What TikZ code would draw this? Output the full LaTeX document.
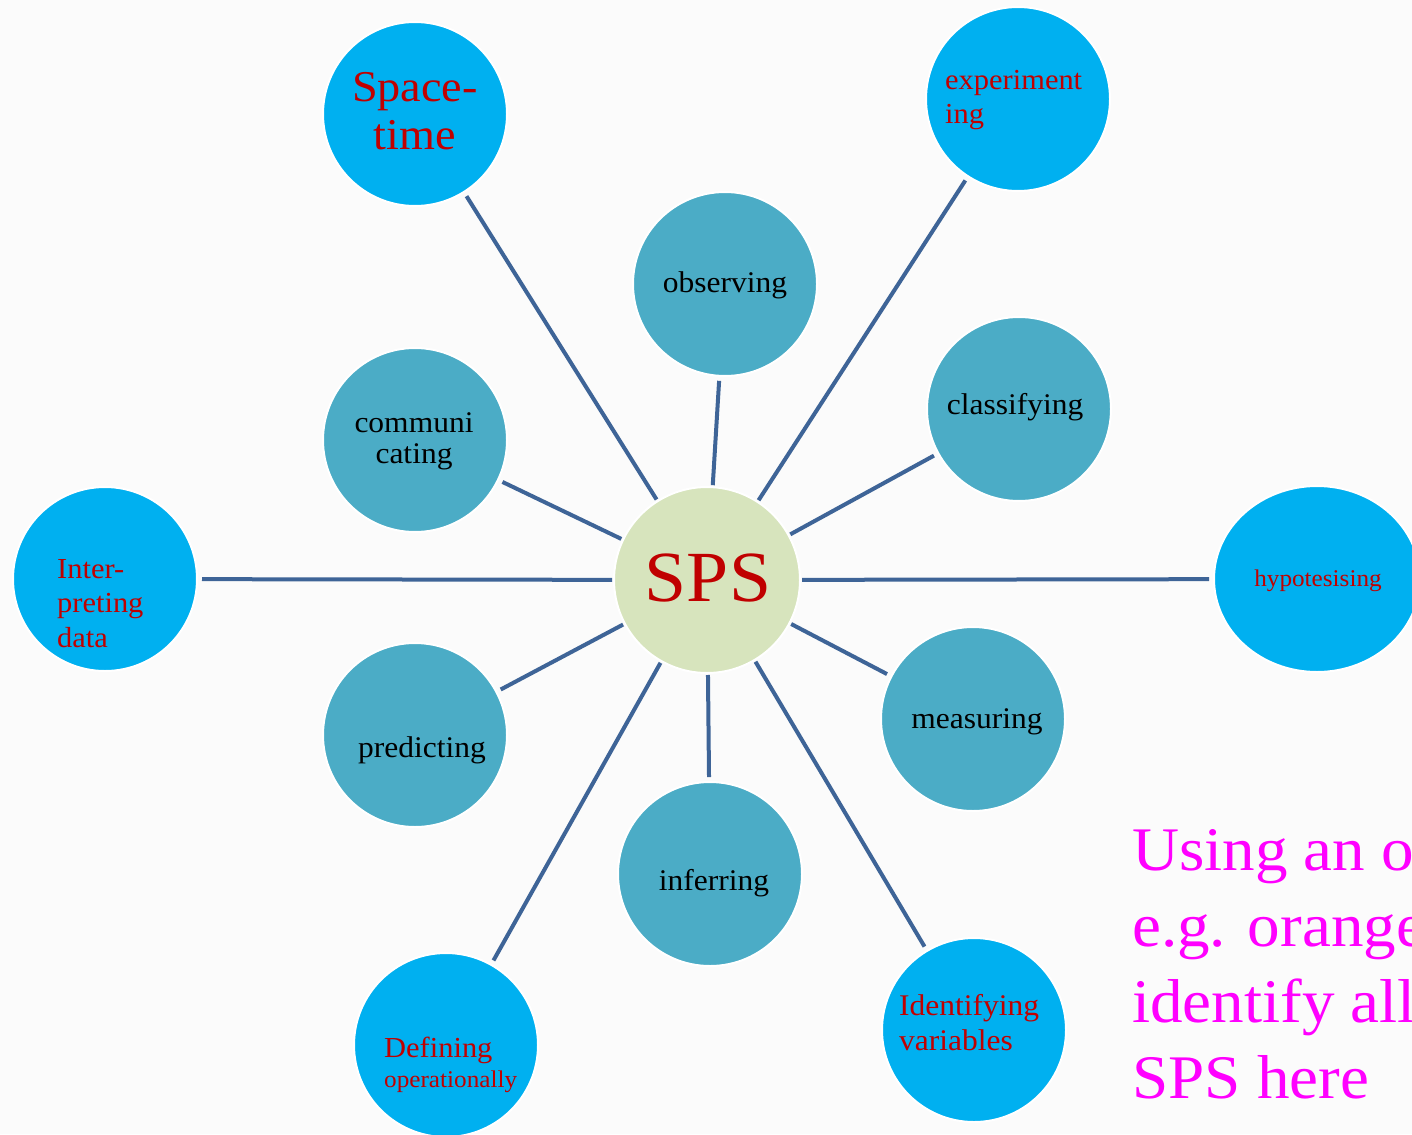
\documentclass[tikz,border=0pt]{standalone}
\usepackage{xcolor}
\usepackage{fontspec}
\setmainfont[FakeStretch=1.05]{Liberation Serif}
\usetikzlibrary{shapes.geometric}

\definecolor{fondo}{HTML}{FBFBFB}
\definecolor{celeste}{HTML}{00B0F0}
\definecolor{turquesa}{HTML}{4BACC6}
\definecolor{verdeclaro}{HTML}{D7E4BD}
\definecolor{azullinea}{HTML}{3E6497}
\definecolor{rojo}{HTML}{C00000}
\definecolor{rosa}{HTML}{FF00FF}

\begin{document}
\begin{tikzpicture}[x=1pt,y=-1pt,
    externo/.style={circle,fill=celeste,draw=white,line width=2pt,minimum size=184pt,inner sep=0pt},
    interno/.style={circle,fill=turquesa,draw=white,line width=2pt,minimum size=184pt,inner sep=0pt},
    rayo/.style={draw=azullinea,line width=4pt,shorten >=4pt,shorten <=1pt},
    txtint/.style={text=black,inner sep=0pt,anchor=base,font=\fontsize{30}{31}\selectfont},
    txtext/.style={text=rojo,inner sep=0pt,align=left,anchor=base west}]

        % Paso 1: Define el marco y el fondo
        \useasboundingbox (0,0) rectangle (1412,1134);
        \clip (0,0) rectangle (1412,1134);
        \fill[fondo] (0,0) rectangle (1412,1134);

        % Paso 2: Dibuja el circulo central
        \node[circle,fill=verdeclaro,draw=white,line width=2pt,minimum size=186pt,inner sep=0pt] (sps) at (707,580) {};

        % Paso 3: Dibuja los circulos interiores
        \node[interno] (obs) at (725,284) {};
        \node[interno] (cla) at (1019,409) {};
        \node[interno] (mea) at (973,719) {};
        \node[interno] (inf) at (710,874) {};
        \node[interno] (pre) at (415,735) {};
        \node[interno] (com) at (415,440) {};

        % Paso 4: Dibuja los circulos exteriores
        \node[externo] (spt) at (415,114) {};
        \node[externo] (exp) at (1018,99) {};
        \node[ellipse,fill=celeste,draw=white,line width=2pt,minimum width=206pt,minimum height=186pt,inner sep=0pt] (hyp) at (1317,579) {};
        \node[externo] (var) at (974,1030) {};
        \node[externo] (def) at (446,1045) {};
        \node[externo] (int) at (105,579) {};

        % Paso 5: Une el centro con cada circulo
        \foreach \c in {spt,obs,exp,cla,hyp,mea,var,inf,def,pre,int,com}
            \draw[rayo] (sps) -- (\c);

        % Paso 6: Escribe los textos (base = ultima linea)
        \node[text=rojo,inner sep=0pt,anchor=base,font=\fontsize{72}{72}\selectfont] (t-sps) at (708,601) {SPS};
        \node[txtint] (t-obs) at (725,292) {observing};
        \node[txtint] (t-cla) at (1015,414) {classifying};
        \node[txtint] (t-mea) at (977,728) {measuring};
        \node[txtint] (t-inf) at (714,890) {inferring};
        \node[txtint] (t-pre) at (422,757) {predicting};
        \node[txtint,align=center] (t-com) at (414,463) {communi\\cating};

        \node[txtext,anchor=base,align=center,font=\fontsize{44}{48}\selectfont] (t-spt) at (415,150) {Space-\\time};
        \node[txtext,font=\fontsize{29}{34}\selectfont] (t-exp) at (945,124) {experiment\\ing};
        \node[txtext,anchor=base,font=\fontsize{24}{26}\selectfont] (t-hyp) at (1318,586) {hypotesising};
        \node[txtext,font=\fontsize{30}{35}\selectfont] (t-var) at (899,1050) {Identifying\\variables};
        \node[txtext,font=\fontsize{29}{30}\selectfont] (t-def) at (384,1087) {Defining\\{\fontsize{24}{30}\selectfont operationally}};
        \node[txtext,font=\fontsize{29}{34.5}\selectfont] (t-int) at (57,647) {Inter-\\preting\\data};

        % Paso 7: Escribe la nota de la derecha
        \node[text=rosa,inner sep=0pt,align=left,anchor=base west,font=\fontsize{62}{76}\selectfont] (nota) at (1132,1098) {Using an object\\e.g. orange\\identify all\\SPS here};
\end{tikzpicture}
\end{document}
